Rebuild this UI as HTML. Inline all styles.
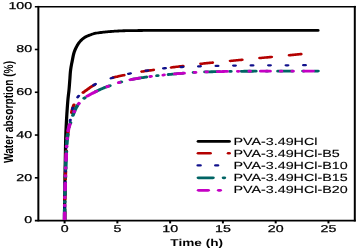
<!DOCTYPE html>
<html><head><meta charset="utf-8"><title>Water absorption chart</title><style>
html,body{margin:0;padding:0;background:#fff;width:357px;height:250px;overflow:hidden}
svg{display:block;will-change:transform}
text{font-family:"Liberation Sans",sans-serif;fill:#000;text-rendering:geometricPrecision}
.tk{stroke:#000;stroke-width:0.25px}
.lg{stroke:#000;stroke-width:0.12px}
</style></head><body>
<svg width="357" height="250" viewBox="0 0 357 250">
<rect width="357" height="250" fill="#fff"/>
<g stroke="#000">
<line x1="38.35" y1="5.9" x2="38.35" y2="221.4" stroke-width="2.0"/>
<line x1="34.85" y1="220.6" x2="355.8" y2="220.6" stroke-width="1.6"/>
<line x1="34.85" y1="6.7" x2="355.8" y2="6.7" stroke-width="1.6"/>
<line x1="354.8" y1="5.9" x2="354.8" y2="221.4" stroke-width="2.0"/>
<line x1="34.85" y1="177.82" x2="38.35" y2="177.82" stroke-width="1.6"/><line x1="34.85" y1="135.04" x2="38.35" y2="135.04" stroke-width="1.6"/><line x1="34.85" y1="92.26" x2="38.35" y2="92.26" stroke-width="1.6"/><line x1="34.85" y1="49.48" x2="38.35" y2="49.48" stroke-width="1.6"/><line x1="64.60" y1="220.6" x2="64.60" y2="223.4" stroke-width="2.0"/><line x1="117.37" y1="220.6" x2="117.37" y2="223.4" stroke-width="2.0"/><line x1="170.14" y1="220.6" x2="170.14" y2="223.4" stroke-width="2.0"/><line x1="222.91" y1="220.6" x2="222.91" y2="223.4" stroke-width="2.0"/><line x1="275.68" y1="220.6" x2="275.68" y2="223.4" stroke-width="2.0"/><line x1="328.45" y1="220.6" x2="328.45" y2="223.4" stroke-width="2.0"/></g>
<text transform="translate(32.10,223.35) scale(1.42,1)" text-anchor="end" font-size="10.0" class="tk">0</text><text transform="translate(32.10,180.57) scale(1.42,1)" text-anchor="end" font-size="10.0" class="tk">20</text><text transform="translate(32.10,137.79) scale(1.42,1)" text-anchor="end" font-size="10.0" class="tk">40</text><text transform="translate(32.10,95.01) scale(1.42,1)" text-anchor="end" font-size="10.0" class="tk">60</text><text transform="translate(32.10,52.23) scale(1.42,1)" text-anchor="end" font-size="10.0" class="tk">80</text><text transform="translate(32.10,9.45) scale(1.42,1)" text-anchor="end" font-size="10.0" class="tk">100</text><text transform="translate(64.60,232.30) scale(1.42,1)" text-anchor="middle" font-size="10.0" class="tk">0</text><text transform="translate(117.37,232.30) scale(1.42,1)" text-anchor="middle" font-size="10.0" class="tk">5</text><text transform="translate(170.14,232.30) scale(1.42,1)" text-anchor="middle" font-size="10.0" class="tk">10</text><text transform="translate(222.91,232.30) scale(1.42,1)" text-anchor="middle" font-size="10.0" class="tk">15</text><text transform="translate(275.68,232.30) scale(1.42,1)" text-anchor="middle" font-size="10.0" class="tk">20</text><text transform="translate(328.45,232.30) scale(1.42,1)" text-anchor="middle" font-size="10.0" class="tk">25</text><text transform="translate(196.75,245.80) scale(1.364,1)" text-anchor="middle" font-size="10.0" font-weight="bold">Time (h)</text><text transform="translate(13.2,112) scale(1.3,1) rotate(-90)" text-anchor="middle" font-size="10.2" font-weight="bold">Water absorption (%)</text>
<text transform="translate(233.40,144.90) scale(1.39,1)" text-anchor="start" font-size="10.3" class="lg">PVA-3.49HCl</text><text transform="translate(233.40,157.00) scale(1.39,1)" text-anchor="start" font-size="10.3" class="lg">PVA-3.49HCl-B5</text><text transform="translate(233.40,169.10) scale(1.39,1)" text-anchor="start" font-size="10.3" class="lg">PVA-3.49HCl-B10</text><text transform="translate(233.40,181.20) scale(1.39,1)" text-anchor="start" font-size="10.3" class="lg">PVA-3.49HCl-B15</text><text transform="translate(233.40,193.30) scale(1.39,1)" text-anchor="start" font-size="10.3" class="lg">PVA-3.49HCl-B20</text>
<g transform="scale(1.3,1)" stroke-linecap="round"><line x1="152.63" y1="141.4" x2="176.22" y2="141.4" stroke="#000" stroke-width="2.8"/><line x1="152.53" y1="153.3" x2="161.70" y2="153.3" stroke="#b40000" stroke-width="2.6"/><line x1="175.68" y1="153.3" x2="176.32" y2="153.3" stroke="#b40000" stroke-width="2.6"/><line x1="152.23" y1="165.4" x2="154.16" y2="165.4" stroke="#10108c" stroke-width="2.3"/><line x1="165.77" y1="165.4" x2="167.62" y2="165.4" stroke="#10108c" stroke-width="2.3"/><line x1="152.63" y1="177.8" x2="163.83" y2="177.8" stroke="#006464" stroke-width="2.8"/><line x1="171.94" y1="177.8" x2="172.60" y2="177.8" stroke="#006464" stroke-width="2.8"/><line x1="152.78" y1="190.3" x2="160.14" y2="190.3" stroke="#c400c4" stroke-width="2.8"/><line x1="168.25" y1="190.3" x2="169.37" y2="190.3" stroke="#c400c4" stroke-width="2.8"/></g>
<clipPath id="pc"><rect x="0" y="0" width="357" height="219.9"/></clipPath><g clip-path="url(#pc)"><g transform="scale(1.3,1)" fill="none" stroke-linejoin="round" stroke-linecap="round">
<path d="M56.17 220.60L56.18 219.35L56.19 218.10L56.19 216.85L56.20 215.60L56.20 214.35L56.21 213.10L56.22 211.85L56.22 210.60L56.23 209.35L56.23 208.10L56.24 206.85L56.24 205.60L56.25 204.35L56.25 203.10L56.26 201.85L56.27 200.60L56.27 199.35L56.28 198.10L56.29 196.85L56.30 195.60L56.31 194.35L56.32 193.10L56.33 191.85L56.34 190.60L56.35 189.35L56.37 188.10L56.38 186.85L56.40 185.60L56.41 184.35L56.43 183.10L56.44 181.85L56.46 180.60L56.48 179.35L56.49 178.10L56.51 176.85L56.53 175.60L56.55 174.35L56.57 173.10L56.59 171.85L56.61 170.60L56.63 169.35L56.65 168.10L56.67 166.85L56.69 165.60L56.71 164.35L56.73 163.10L56.75 161.85L56.77 160.60L56.79 159.36L56.81 158.11L56.83 156.86L56.85 155.61L56.87 154.36L56.89 153.11L56.91 151.86L56.93 150.61L56.94 149.36L56.96 148.11L56.98 146.86L57.00 145.61L57.02 144.36L57.04 143.11L57.07 141.86L57.09 140.61L57.12 139.36L57.15 138.11L57.18 136.86L57.21 135.61L57.25 134.36L57.28 133.11L57.32 131.86L57.37 130.61L57.42 129.36L57.47 128.12L57.52 126.87L57.57 125.62L57.63 124.37L57.68 123.12L57.74 121.87L57.80 120.63L57.87 119.38L57.93 118.13L58.00 116.88L58.06 115.63L58.13 114.39L58.20 113.14L58.27 111.89L58.34 110.65L58.42 109.40L58.49 108.15L58.57 106.90L58.65 105.66L58.73 104.41L58.82 103.17L58.90 101.92L58.99 100.67L59.09 99.43L59.19 98.18L59.31 96.94L59.43 95.70L59.56 94.46L59.69 93.22L59.82 91.98L59.94 90.73L60.04 89.49L60.14 88.24L60.23 87.00L60.31 85.75L60.40 84.51L60.48 83.26L60.56 82.01L60.64 80.77L60.73 79.52L60.81 78.27L60.88 77.03L60.95 75.78L61.02 74.53L61.10 73.28L61.19 72.04L61.31 70.80L61.44 69.56L61.60 68.32L61.77 67.09L61.96 65.85L62.16 64.63L62.36 63.40L62.58 62.17L62.79 60.95L63.01 59.72L63.21 58.49L63.42 57.27L63.64 56.04L63.87 54.82L64.08 53.85L64.32 52.89L64.59 51.94L64.88 51.00L65.20 50.06L65.54 49.14L65.90 48.24L66.29 47.34L66.69 46.46L67.11 45.58L67.55 44.72L68.02 43.87L68.51 43.05L69.04 42.25L69.60 41.49L70.18 40.75L70.80 40.04L71.43 39.36L72.09 38.71L72.78 38.09L73.49 37.52L74.24 37.01L75.01 36.55L75.80 36.13L76.60 35.75L77.41 35.38L78.22 35.02L79.03 34.66L79.85 34.31L80.67 33.99L81.51 33.71L82.35 33.47L83.41 33.21L84.49 33.00L85.56 32.81L86.64 32.64L87.72 32.49L88.80 32.35L89.88 32.22L90.96 32.09L92.04 31.96L93.12 31.84L94.20 31.72L95.29 31.60L96.37 31.49L97.45 31.39L98.54 31.29L99.62 31.20L100.70 31.12L101.79 31.05L102.87 30.98L103.96 30.92L105.05 30.86L106.13 30.81L107.22 30.77L108.30 30.73L109.39 30.70L110.48 30.67L111.56 30.65L112.65 30.63L113.74 30.61L114.83 30.59L115.91 30.57L117.00 30.56L118.09 30.55L119.17 30.53L120.26 30.52L121.35 30.50L122.43 30.49L123.52 30.48L124.61 30.47L125.69 30.46L126.78 30.45L127.87 30.44L128.96 30.44L130.04 30.43L131.13 30.43L132.22 30.42L133.30 30.42L134.39 30.41L135.48 30.41L136.56 30.41L137.65 30.41L138.74 30.41L139.82 30.41L140.91 30.40L142.00 30.40L143.09 30.40L144.17 30.40L145.26 30.40L146.35 30.40L147.43 30.40L148.52 30.40L149.61 30.40L150.69 30.40L151.78 30.40L152.87 30.40L153.95 30.40L155.04 30.40L156.13 30.40L157.22 30.40L158.30 30.40L159.39 30.40L160.48 30.40L161.56 30.40L162.65 30.40L163.74 30.40L164.82 30.40L165.91 30.40L167.00 30.40L168.09 30.40L169.17 30.40L170.26 30.40L171.35 30.39L172.43 30.39L173.52 30.39L174.61 30.39L175.69 30.39L176.78 30.39L177.87 30.39L178.95 30.39L180.04 30.39L181.13 30.39L182.22 30.39L183.30 30.39L184.39 30.39L185.48 30.39L186.56 30.39L187.65 30.39L188.74 30.39L189.82 30.39L190.91 30.39L192.00 30.39L193.09 30.39L194.17 30.39L195.26 30.39L196.35 30.39L197.43 30.39L198.52 30.39L199.61 30.39L200.69 30.39L201.78 30.39L202.87 30.39L203.95 30.39L205.04 30.39L206.13 30.39L207.22 30.39L208.30 30.39L209.39 30.39L210.48 30.39L211.56 30.39L212.65 30.39L213.74 30.39L214.82 30.39L215.91 30.39L217.00 30.39L218.09 30.39L219.17 30.39L220.26 30.39L221.35 30.39L222.43 30.39L223.52 30.39L224.61 30.39L225.69 30.39L226.78 30.39L227.87 30.39L228.95 30.39L230.04 30.39L231.13 30.39L232.22 30.39L233.30 30.39L234.39 30.39L235.48 30.39L236.56 30.39L237.65 30.39L238.74 30.39L239.82 30.39L240.91 30.39L242.00 30.39L243.09 30.39L244.17 30.39L245.26 30.39L246.35 30.40L247.43 30.40L248.52 30.40L249.61 30.40L250.69 30.40L251.78 30.40L252.87 30.40L253.95 30.40L255.04 30.40L256.13 30.40L257.22 30.40L258.30 30.40L259.39 30.40L260.48 30.40L261.56 30.40L262.65 30.40L263.74 30.40L264.82 30.40L265.91 30.40L267.00 30.40L268.09 30.40L269.17 30.40L270.26 30.40L271.35 30.40L272.43 30.40L273.52 30.40L274.61 30.40L275.69 30.40L276.52 30.40" stroke="#000" stroke-width="2.8" transform="scale(0.8846153846153845,1)"/>
<path d="M49.70 219.44L49.71 218.10L49.72 216.85L49.72 215.60L49.73 214.35L49.74 213.10L49.75 211.85L49.75 211.47M49.86 199.21L49.88 197.85L49.90 196.60L49.92 195.35L49.94 194.10L49.96 192.85L49.98 191.60L49.99 191.24M50.25 178.97L50.29 177.61L50.32 176.36L50.34 175.11L50.37 173.86L50.41 172.61L50.44 171.36L50.45 171.00M50.81 158.74L50.86 157.37L50.90 156.12L50.94 154.87L50.98 153.63L51.02 152.38L51.07 151.13L51.08 150.77M51.73 138.51L51.82 137.42L51.93 136.17L52.05 134.93L52.18 133.69L52.31 132.46L52.45 131.22L52.53 130.54M55.11 112.73L55.29 111.57L55.49 110.35L55.68 109.38L55.89 108.41L56.12 107.46L56.36 106.51L56.63 105.57L56.87 104.76M63.98 92.51L64.53 91.97L65.16 91.39L65.78 90.80L66.41 90.22L67.04 89.65L67.67 89.07L68.29 88.48L68.91 87.90L69.54 87.32L70.18 86.76L70.83 86.23L71.49 85.72L72.16 85.23L72.66 84.87M86.42 77.86L87.17 77.59L87.91 77.33L88.66 77.09L89.41 76.85L90.16 76.63L91.09 76.35L92.03 76.08L92.97 75.82L93.91 75.55L94.85 75.29L95.36 75.14M109.11 71.59L109.94 71.42L110.89 71.23L111.84 71.04L112.80 70.86L113.75 70.69L114.70 70.52L115.65 70.35L116.61 70.18L117.56 70.01L118.05 69.92M131.80 67.45L132.80 67.29L133.75 67.13L134.71 66.98L135.66 66.83L136.62 66.68L137.57 66.53L138.53 66.38L139.48 66.23L140.44 66.08L140.74 66.03M154.50 63.81L155.51 63.67L156.47 63.53L157.43 63.40L158.38 63.27L159.34 63.14L160.30 63.01L161.25 62.89L162.21 62.76L163.17 62.64L163.43 62.60M177.19 60.93L178.10 60.82L179.06 60.70L180.01 60.57L180.97 60.45L181.93 60.33L182.88 60.21L183.84 60.08L184.80 59.96L185.76 59.84L186.13 59.79M199.88 58.06L200.88 57.94L201.83 57.82L202.79 57.70L203.75 57.58L204.71 57.46L205.66 57.34L206.62 57.22L207.58 57.10L208.53 56.99L208.82 56.95M222.57 55.25L223.47 55.14L224.42 55.01L225.38 54.89L226.34 54.77L227.29 54.65L228.25 54.52L229.21 54.40L230.17 54.28L231.12 54.16L231.51 54.11" stroke="#b40000" stroke-width="2.6"/>
<path d="M49.70 219.57L49.71 218.35L49.71 218.20M49.77 207.57L49.78 206.35L49.78 206.19M49.91 195.57L49.93 194.35L49.94 194.19M50.15 183.57L50.18 182.36L50.18 182.19M50.43 171.56L50.46 170.36L50.47 170.19M50.78 159.56L50.82 158.37L50.83 158.18M51.21 147.56L51.26 146.38L51.27 146.18M51.99 135.56L52.10 134.44L52.13 134.18M53.87 121.24L54.05 120.17L54.10 119.86M55.71 109.24L55.94 108.17L56.02 107.86M59.74 97.23L60.17 96.45L60.56 95.85M71.91 85.34L72.61 84.74L73.26 84.21L73.46 84.04M85.37 78.25L86.17 77.97L86.91 77.70L86.92 77.70M98.83 73.80L99.78 73.53L100.38 73.37M112.30 70.74L113.24 70.55L113.84 70.44M125.76 68.40L126.78 68.26L127.30 68.19M139.22 67.05L140.20 66.98L140.77 66.94M152.68 66.33L153.65 66.29L154.23 66.27M166.14 65.92L167.11 65.89L167.69 65.88M179.60 65.61L180.57 65.60L181.15 65.58M193.07 65.41L194.03 65.40L194.61 65.39M206.53 65.30L207.49 65.30L208.07 65.30M219.99 65.30L220.95 65.30L221.53 65.30M233.45 65.20L234.42 65.20L235.00 65.20" stroke="#10108c" stroke-width="2.3"/>
<path d="M49.70 219.35L49.71 218.10L49.72 216.85L49.72 215.60L49.73 214.35L49.74 213.10L49.75 211.85L49.75 210.60L49.76 209.50M49.82 202.20L49.83 201.62M49.93 194.32L49.96 193.10L49.98 191.85L50.00 190.60L50.03 189.35L50.05 188.10L50.08 186.85L50.11 185.61L50.13 184.47M50.30 177.17L50.31 176.58M50.49 169.28L50.52 168.11L50.56 166.86L50.59 165.62L50.63 164.37L50.67 163.12L50.71 161.87L50.75 160.62L50.79 159.43M51.03 152.14L51.05 151.55M51.36 144.25L51.43 142.89L51.51 141.65L51.59 140.40L51.68 139.16L51.77 137.91L51.86 136.67L51.96 135.42L52.05 134.40M53.03 127.10L53.17 126.51M54.09 123.32L54.25 122.73M56.06 115.43L56.31 114.50L56.57 113.56L56.84 112.63L57.12 111.70L57.42 110.77L57.74 109.86L58.07 108.96L58.42 108.07L58.78 107.19L59.17 106.33L59.52 105.58M64.75 98.28L65.26 97.74L65.30 97.69M73.44 91.71L74.14 91.26L74.83 90.82L75.52 90.39L76.22 89.97L76.92 89.55L77.62 89.15L78.33 88.75L79.04 88.36L79.75 87.97L80.46 87.60L81.18 87.24L81.90 86.89L82.62 86.55L83.35 86.22L84.07 85.89L84.49 85.70M92.67 82.11L93.34 81.87M101.52 79.40L102.37 79.19L103.32 78.96L104.26 78.74L105.21 78.53L106.16 78.32L107.11 78.11L108.06 77.90L109.00 77.71L109.95 77.51L110.91 77.33L111.86 77.15L112.57 77.02M120.75 75.69L121.41 75.59M129.60 74.50L130.58 74.39L131.54 74.27L132.50 74.16L133.45 74.05L134.41 73.93L135.37 73.83L136.33 73.72L137.29 73.61L138.24 73.50L139.20 73.40L140.16 73.29L140.64 73.24M148.83 72.42L149.49 72.37M157.67 71.95L158.59 71.91L159.55 71.87L160.51 71.84L161.47 71.80L162.43 71.77L163.39 71.73L164.35 71.70L165.32 71.67L166.28 71.64L167.24 71.61L168.20 71.59L168.72 71.57M176.91 71.40L177.57 71.39M185.75 71.29L186.85 71.28L187.81 71.27L188.77 71.27L189.74 71.26L190.70 71.25L191.66 71.25L192.62 71.24L193.58 71.24L194.54 71.23L195.51 71.22L196.47 71.22L196.80 71.22M204.98 71.18L205.64 71.17M213.83 71.15L214.93 71.15L215.89 71.15L216.85 71.14L217.81 71.14L218.77 71.14L219.74 71.14L220.70 71.14L221.66 71.14L222.62 71.14L223.58 71.13L224.54 71.13L224.87 71.13M233.06 71.12L233.72 71.12M241.91 71.11L243.00 71.10L243.97 71.10L244.62 71.10" stroke="#006464" stroke-width="2.8"/>
<path d="M49.70 219.35L49.71 218.10L49.72 216.85L49.72 215.60L49.73 214.35L49.74 213.10L49.74 212.93M49.79 205.63L49.79 205.04M49.88 197.75L49.89 197.16M50.02 189.86L50.04 188.60L50.07 187.35L50.09 186.10L50.12 184.86L50.15 183.61L50.15 183.44M50.32 176.14L50.33 175.55M50.52 168.25L50.53 167.66M50.76 160.37L50.80 159.12L50.84 157.87L50.88 156.62L50.92 155.37L50.96 154.13L50.97 153.95M51.24 146.65L51.27 146.06M51.71 138.76L51.75 138.17M52.42 130.87L52.57 129.73L52.76 128.50L52.94 127.53L53.15 126.57L53.40 125.63L53.68 124.69L53.75 124.45M57.08 111.81L57.27 111.22M60.42 103.93L60.77 103.34M67.11 96.14L67.86 95.60L68.53 95.13L69.21 94.66L69.89 94.19L70.57 93.72L71.24 93.24L71.92 92.76L72.60 92.29L73.28 91.82L73.96 91.37L74.31 91.14M82.50 86.61L83.16 86.31M91.35 82.62L92.01 82.36M100.19 79.75L101.05 79.52L101.99 79.29L102.94 79.05L103.89 78.83L104.83 78.61L105.78 78.40L106.73 78.19L107.39 78.05M115.58 76.50L116.24 76.39M125.56 75.02L126.22 74.93M134.41 73.94L135.37 73.83L136.33 73.72L137.29 73.61L138.24 73.50L139.20 73.40L140.16 73.29L141.12 73.19L141.61 73.13M149.79 72.35L150.45 72.31M158.64 71.91L159.30 71.88M167.48 71.61L168.39 71.58L169.35 71.56L170.31 71.53L171.28 71.51L172.24 71.49L173.20 71.47L174.16 71.45L174.68 71.44M182.87 71.32L183.53 71.31M191.71 71.25L192.37 71.24M200.56 71.20L201.66 71.19L202.62 71.19L203.58 71.18L204.54 71.18L205.51 71.18L206.47 71.17L207.43 71.17L207.76 71.17M215.94 71.15L216.61 71.15M224.79 71.13L225.45 71.13M233.64 71.12L234.74 71.12L235.70 71.12L236.66 71.11L237.62 71.11L238.58 71.11L239.54 71.11L240.50 71.11L240.84 71.11" stroke="#c400c4" stroke-width="2.8"/>
</g></g>
</svg></body></html>
